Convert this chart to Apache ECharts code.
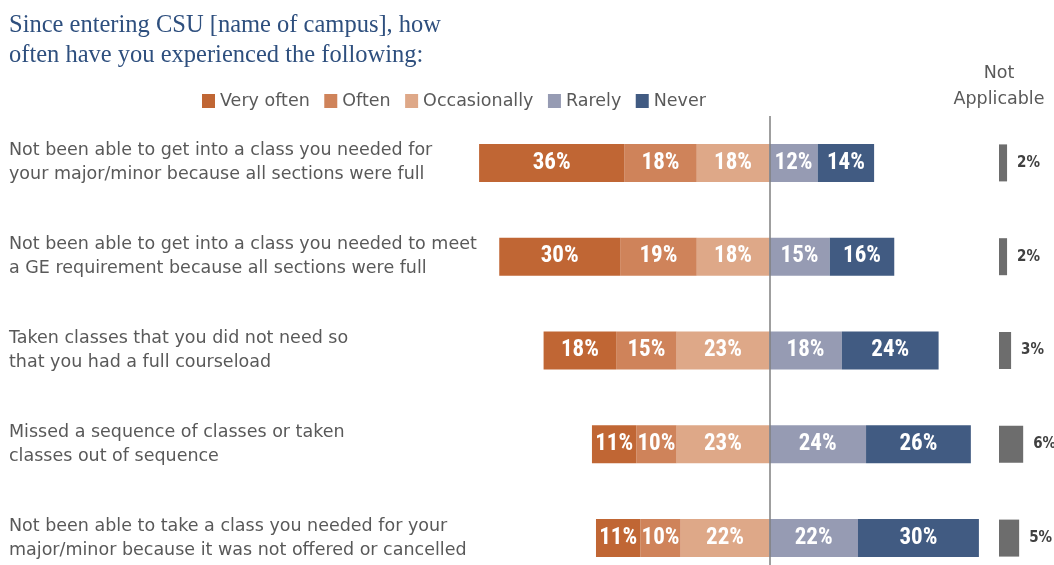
<!DOCTYPE html>
<html>
<head>
<meta charset="utf-8">
<script src="https://cdn.jsdelivr.net/npm/echarts@6/dist/echarts.min.js"></script>
<style>
  html, body { margin: 0; padding: 0; background: #fff; }
  #chart { width: 1054px; height: 565px; }
</style>
</head>
<body>
<div id="chart"></div>
<script>
// Survey items (top to bottom)
const categories = [
  'Not been able to get into a class you needed for\nyour major/minor because all sections were full',
  'Not been able to get into a class you needed to meet\na GE requirement because all sections were full',
  'Taken classes that you did not need so\nthat you had a full courseload',
  'Missed a sequence of classes or taken\nclasses out of sequence',
  'Not been able to take a class you needed for your\nmajor/minor because it was not offered or cancelled'
];

// Response shares, percent
const veryOften    = [36, 30, 18, 11, 11];
const often        = [18, 19, 15, 10, 10];
const occasionally = [18, 18, 23, 23, 22];
const rarely       = [12, 15, 18, 24, 22];
const never        = [14, 16, 24, 26, 30];
const notApplicable = [2, 2, 3, 6, 5];

const legendNames = ['Very often', 'Often', 'Occasionally', 'Rarely', 'Never'];

const colors = {
  'Very often': '#c06634',
  'Often': '#cf835a',
  'Occasionally': '#dea888',
  'Rarely': '#969bb3',
  'Never': '#415b82'
};

const textFont = '"DejaVu Sans", sans-serif';
const valueFont = '"Liberation Sans Narrow", "Roboto Condensed", Roboto, sans-serif';

function segment(name, values, negative) {
  return {
    name: name,
    type: 'bar',
    stack: 'total',
    xAxisIndex: 0,
    yAxisIndex: 0,
    barWidth: 38,
    itemStyle: { color: colors[name] },
    label: {
      show: true,
      position: 'inside',
      color: '#ffffff',
      fontFamily: valueFont,
      fontWeight: 'bold',
      fontSize: 23,
      formatter: p => Math.abs(p.value) + '%'
    },
    emphasis: { disabled: true },
    data: values.map(v => negative ? -v : v)
  };
}

const chart = echarts.init(document.getElementById('chart'), null, { renderer: 'canvas' });

const rarelySeries = segment('Rarely', rarely, false);
rarelySeries.markLine = {
  silent: true,
  symbol: 'none',
  label: { show: false },
  lineStyle: { color: '#7f7f7f', width: 1.5, type: 'solid' },
  data: [{ xAxis: 0 }]
};

chart.setOption({
  animation: false,
  backgroundColor: '#ffffff',
  title: {
    text: 'Since entering CSU [name of campus], how\noften have you experienced the following:',
    left: 4,
    top: 6,
    textStyle: {
      fontFamily: '"Liberation Serif", "DejaVu Serif", serif',
      fontWeight: 'normal',
      fontSize: 24.5,
      lineHeight: 30,
      color: '#2e4f7e'
    }
  },
  legend: {
    data: legendNames,
    left: 197,
    top: 87,
    icon: 'rect',
    itemWidth: 13,
    itemHeight: 14,
    itemGap: 14.5,
    textStyle: {
      fontFamily: textFont,
      fontSize: 17.5,
      color: '#595959'
    }
  },
  graphic: [{
    type: 'text',
    x: 999,
    y: 60,
    style: {
      text: 'Not\nApplicable',
      align: 'center',
      verticalAlign: 'top',
      fontFamily: textFont,
      fontSize: 17.5,
      lineHeight: 26,
      fill: '#595959'
    }
  }],
  grid: [
    { left: 467, width: 524, top: 116, height: 469, outerBoundsMode: 'none' },
    { left: 999, width: 40.3, top: 116, height: 469, outerBoundsMode: 'none' }
  ],
  xAxis: [
    { gridIndex: 0, type: 'value', min: -75, max: 55, show: false },
    { gridIndex: 1, type: 'value', min: 0, max: 10, show: false }
  ],
  yAxis: [
    {
      gridIndex: 0,
      type: 'category',
      data: categories,
      inverse: true,
      axisLine: { show: false },
      axisTick: { show: false },
      splitLine: { show: false },
      axisLabel: {
        align: 'left',
        margin: 458,
        fontFamily: textFont,
        fontSize: 17.5,
        lineHeight: 24,
        color: '#595959'
      }
    },
    {
      gridIndex: 1,
      type: 'category',
      data: categories,
      inverse: true,
      show: false
    }
  ],
  series: [
    segment('Occasionally', occasionally, true),
    segment('Often', often, true),
    segment('Very often', veryOften, true),
    rarelySeries,
    segment('Never', never, false),
    {
      name: 'Not Applicable',
      type: 'bar',
      xAxisIndex: 1,
      yAxisIndex: 1,
      barWidth: 37,
      itemStyle: { color: '#6d6d6d' },
      label: {
        show: true,
        position: 'right',
        distance: 10,
        color: '#404040',
        fontFamily: '"DejaVu Sans Condensed", "DejaVu Sans", sans-serif',
        fontWeight: 'bold',
        fontSize: 15,
        formatter: p => p.value + '%'
      },
      emphasis: { disabled: true },
      data: notApplicable
    }
  ]
});
</script>
</body>
</html>
